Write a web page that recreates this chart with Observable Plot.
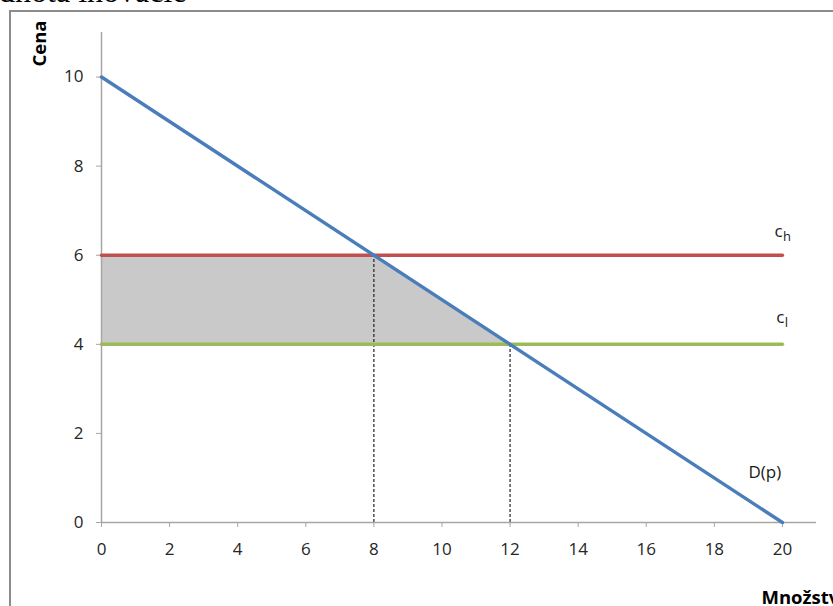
<!DOCTYPE html>
<html>
<head>
<meta charset="utf-8">
<script src="https://cdn.jsdelivr.net/npm/d3@7"></script>
<script src="https://cdn.jsdelivr.net/npm/@observablehq/plot@0.6"></script>
<style>
  html, body { margin: 0; padding: 0; background: #fff; overflow: hidden; }
  #wrap { position: relative; width: 833px; height: 606px; overflow: hidden; }
  #title {
    position: absolute; left: -40px; top: -25px; margin: 0;
    font-family: "Liberation Serif", "Times New Roman", serif;
    font-size: 32px; line-height: 32px; font-weight: normal; color: #000; white-space: nowrap;
  }
  #box {
    position: absolute; left: 9px; top: 10px; width: 900px; height: 700px;
    border: 2px solid #8c8c8c; box-sizing: border-box;
  }
  #chart { position: absolute; left: 0; top: 0; }
</style>
</head>
<body>
<div id="wrap">
  <div id="title">Hodnota inovácie</div>
  <div id="box"></div>
  <div id="chart"></div>
</div>
<script>
// Demand curve D(p): quantity vs. price
const demandQ = [0, 20];
const demandP = [10, 0];
// Cost levels: high (c_h) and low (c_l)
const costHigh = 6;
const costLow = 4;
const costQ = [0, 20];
// Quantities demanded at each cost level
const qAtHigh = 8;
const qAtLow = 12;
// Axis ticks
const xTicks = [0, 2, 4, 6, 8, 10, 12, 14, 16, 18, 20];
const yTicks = [0, 2, 4, 6, 8, 10];
// Curve labels: main letter, subscript, anchor position
const labelText = ["c", "c", "D(p)"];
const labelSub = ["h", "l", ""];
const labelQ = [19.77, 19.82, 19.0];
const labelP = [6.4, 4.47, 1.0];

const demand = demandQ.map((q, i) => ({q, p: demandP[i]}));
const high = costQ.map(q => ({q, p: costHigh}));
const low = costQ.map(q => ({q, p: costLow}));
// Gain region between the two cost levels, bounded by demand
const gain = [
  {q: 0, lo: costLow, hi: costHigh},
  {q: qAtHigh, lo: costLow, hi: costHigh},
  {q: qAtLow, lo: costLow, hi: costLow}
];
const drops = [{q: qAtHigh, p: costHigh}, {q: qAtLow, p: costLow}];
const labels = labelText.map((t, i) => ({t, sub: labelSub[i], q: labelQ[i], p: labelP[i]}));

const axisGray = "#a6a6a6";

const chart = Plot.plot({
  width: 833,
  height: 606,
  marginLeft: 101,
  marginRight: 17,
  marginTop: 32,
  marginBottom: 84,
  style: {fontFamily: "'Open Sans', sans-serif", fontSize: "17px", background: "transparent", overflow: "visible"},
  x: {domain: [0, 21]},
  y: {domain: [0, 11]},
  marks: [
    Plot.areaY(gain, {x: "q", y1: "lo", y2: "hi", fill: "#c9c9c9"}),
    Plot.ruleX(drops, {x: "q", y1: 0, y2: "p", stroke: "#222", strokeWidth: 1.2, strokeDasharray: "3,2"}),
    Plot.ruleY([0], {stroke: axisGray, strokeWidth: 1.5}),
    Plot.ruleX([0], {stroke: axisGray, strokeWidth: 1.5}),
    Plot.axisX(xTicks, {tickSize: 5, tickPadding: 15, stroke: axisGray, fill: "#262626", fontSize: 17, label: null}),
    Plot.axisY(yTicks, {tickSize: 5, tickPadding: 13, stroke: axisGray, fill: "#262626", fontSize: 17, label: null}),
    Plot.line(low, {x: "q", y: "p", stroke: "#9bbb59", strokeWidth: 3.4, strokeLinecap: "round"}),
    Plot.line(high, {x: "q", y: "p", stroke: "#c0504d", strokeWidth: 3.4, strokeLinecap: "round"}),
    Plot.line(demand, {x: "q", y: "p", stroke: "#4a7ebb", strokeWidth: 3.4, strokeLinecap: "round"}),
    Plot.text(labels, {x: "q", y: "p", text: "t", textAnchor: "start", lineAnchor: "bottom", fontSize: 17, fill: "#1a1a1a"}),
    Plot.text(labels, {x: "q", y: "p", text: "sub", textAnchor: "start", lineAnchor: "bottom", fontSize: 13, dx: 8.5, dy: 3.5, fill: "#1a1a1a"}),
    Plot.text(["Cena"], {frameAnchor: "top-left", textAnchor: "middle", lineAnchor: "middle", rotate: -90, dx: -61, dy: 11, fontWeight: "bold", fontSize: 18.5, fill: "#000"}),
    Plot.text(["Množstvo"], {frameAnchor: "bottom-right", textAnchor: "start", lineAnchor: "bottom", dx: -55, dy: 81, fontWeight: "bold", fontSize: 18.5, fill: "#000"})
  ]
});
document.getElementById("chart").append(chart);
</script>
</body>
</html>
